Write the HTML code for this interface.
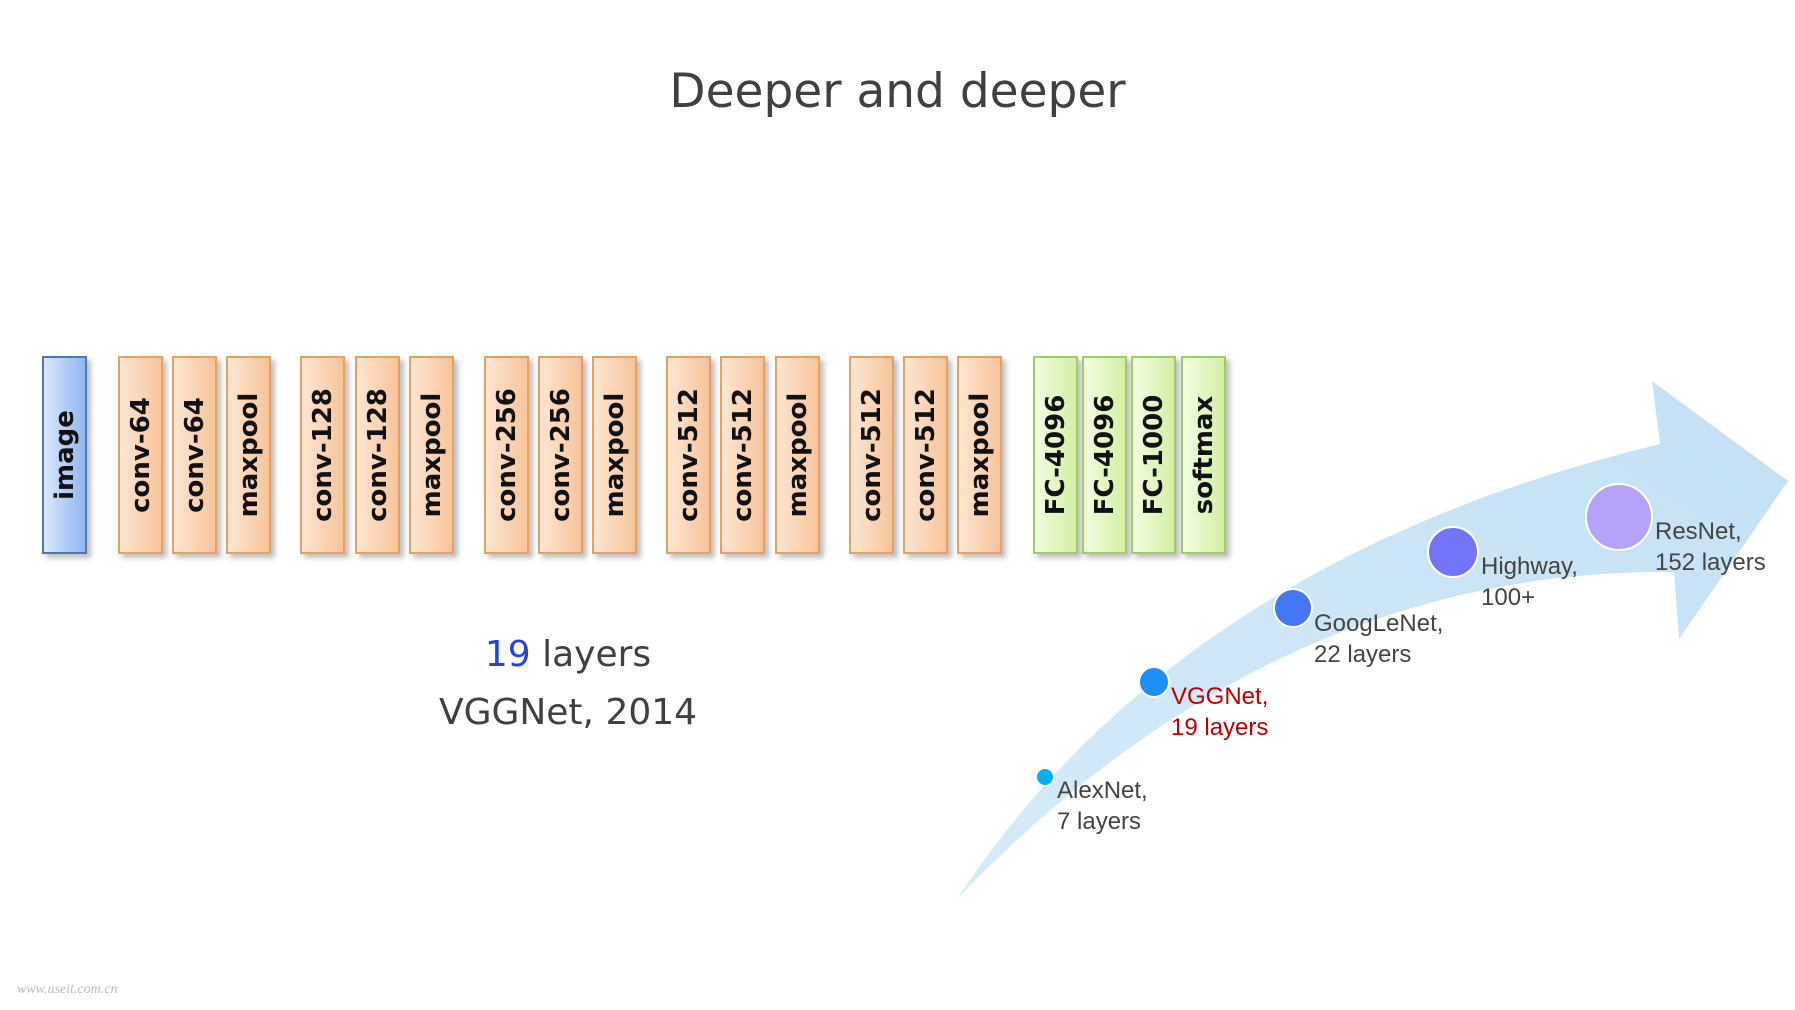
<!DOCTYPE html>
<html><head><meta charset="utf-8"><style>
body{margin:0;width:1795px;height:1010px;background:#fff;position:relative;overflow:hidden;font-family:"Liberation Sans",sans-serif}
.t{position:absolute;color:#404040;font-family:"DejaVu Sans","Liberation Sans",sans-serif}
.b{position:absolute;top:356px;width:41px;height:194px;box-shadow:4px 4px 5px rgba(0,0,0,.25)}
.b span{position:absolute;left:50%;top:50%;transform:translate(-50%,-50%) rotate(-90deg);white-space:nowrap;font-weight:bold;font-size:26px;color:#111;font-family:"DejaVu Sans","Liberation Sans",sans-serif}
.o{background:linear-gradient(90deg,#fde6d2,#f8c49a);border:2px solid #e8a060}
.bl{background:linear-gradient(90deg,#dbe8fb,#8fb6f2);border:2px solid #4a78b8}
.g{background:linear-gradient(90deg,#f2fde0,#d2f0a4);border:2px solid #a0cc66}
.l{position:absolute;font-size:24px;color:#444;line-height:31px;font-family:"Liberation Sans",sans-serif}
</style></head><body>
<div class="t" style="left:0;width:1795px;text-align:center;top:64px;font-size:47px">Deeper and deeper</div>
<div class="b bl" style="left:42px"><span>image</span></div>
<div class="b o" style="left:118px"><span>conv-64</span></div>
<div class="b o" style="left:172px"><span>conv-64</span></div>
<div class="b o" style="left:226px"><span>maxpool</span></div>
<div class="b o" style="left:300px"><span>conv-128</span></div>
<div class="b o" style="left:355px"><span>conv-128</span></div>
<div class="b o" style="left:409px"><span>maxpool</span></div>
<div class="b o" style="left:484px"><span>conv-256</span></div>
<div class="b o" style="left:538px"><span>conv-256</span></div>
<div class="b o" style="left:592px"><span>maxpool</span></div>
<div class="b o" style="left:666px"><span>conv-512</span></div>
<div class="b o" style="left:720px"><span>conv-512</span></div>
<div class="b o" style="left:775px"><span>maxpool</span></div>
<div class="b o" style="left:849px"><span>conv-512</span></div>
<div class="b o" style="left:903px"><span>conv-512</span></div>
<div class="b o" style="left:957px"><span>maxpool</span></div>
<div class="b g" style="left:1033px"><span>FC-4096</span></div>
<div class="b g" style="left:1082px"><span>FC-4096</span></div>
<div class="b g" style="left:1131px"><span>FC-1000</span></div>
<div class="b g" style="left:1181px"><span>softmax</span></div>
<div class="t" style="left:368px;width:400px;text-align:center;top:634px;font-size:36px"><span style="color:#2244dd">19</span> layers</div>
<div class="t" style="left:368px;width:400px;text-align:center;top:692px;font-size:36px">VGGNet, 2014</div>
<svg style="position:absolute;left:0;top:0" width="1795" height="1010">
<defs><linearGradient id="ag" x1="0" y1="1" x2="1" y2="0"><stop offset="0" stop-color="#d6ebf9"/><stop offset="1" stop-color="#c4e0f5"/></linearGradient></defs>
<path d="M957,899 Q1180,560 1660,444 L1652,381 L1788,481 L1679,639 L1674,572 Q1274,568 957,899 Z" fill="url(#ag)"/>
<g stroke="#fff" stroke-width="2">
<circle cx="1045" cy="777" r="9" fill="#00b0f0"/>
<circle cx="1154" cy="682" r="15" fill="#1e8ff5"/>
<circle cx="1293" cy="608" r="19" fill="#4477f5"/>
<circle cx="1453" cy="552" r="25" fill="#7474f8"/>
<circle cx="1619" cy="517" r="33" fill="#b4a2fb"/>
</g>
</svg>
<div class="l" style="left:1057px;top:775px">AlexNet,<br>7 layers</div>
<div class="l" style="left:1171px;top:681px;color:#c00000">VGGNet,<br>19 layers</div>
<div class="l" style="left:1314px;top:608px">GoogLeNet,<br>22 layers</div>
<div class="l" style="left:1481px;top:551px">Highway,<br>100+</div>
<div class="l" style="left:1655px;top:516px">ResNet,<br>152 layers</div>
<div style="position:absolute;left:17px;top:982px;font-size:14px;color:#bbb;font-style:italic;font-family:'Liberation Serif',serif">www.useit.com.cn</div>
</body></html>
